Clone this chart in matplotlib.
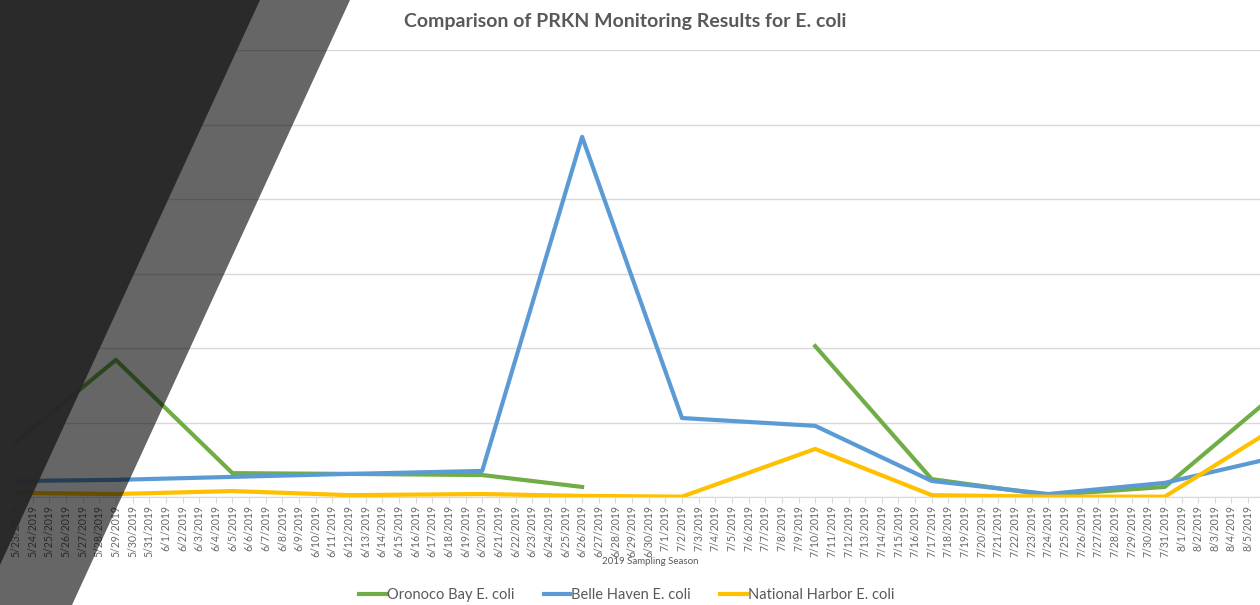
import matplotlib.pyplot as plt
import numpy as np
import pandas as pd
from matplotlib.patches import Polygon

# axis runs daily, sampling only on some days
axis_start = "2019-05-23"
axis_end = "2019-08-07"
last_label = "2019-08-05"
sample_dates = ["2019-05-23", "2019-05-29", "2019-06-05", "2019-06-12", "2019-06-20",
                "2019-06-26", "2019-07-02", "2019-07-10", "2019-07-17", "2019-07-24",
                "2019-07-31", "2019-08-07"]
oronoco = [148, 368, 64, 62, 59, 27, np.nan, 405, 48, 5, 27, 290]
belle_haven = [43, 46, 54, 62, 70, 967, 212, 191, 43, 8, 38, 110]
national_harbor = [11, 8, 16, 5, 8, 3, 1, 129, 5, 1, 1, 196]

W, H = 1260, 605
fig = plt.figure(figsize=(W / 100, H / 100), dpi=100)
plt.rcParams['font.family'] = ['Lato', 'DejaVu Sans']

# plot area in pixels: day 0 at x=16, 16.65 px per day
px_day = 16.65
x_left = 16 - 0.5 * px_day
x_right = 16 + 76.5 * px_day
ax = fig.add_axes([x_left / W, 1 - 497 / H, (x_right - x_left) / W, (497 - 50) / H])

days = pd.date_range(axis_start, axis_end, freq="D")
start = pd.Timestamp(axis_start)
xs = [(pd.Timestamp(d) - start).days for d in sample_dates]

ax.plot(xs, oronoco, color="#70AD47", lw=3.0, solid_joinstyle="round", zorder=3, label="Oronoco Bay E. coli")
ax.plot(xs, belle_haven, color="#5B9BD5", lw=3.0, solid_joinstyle="round", zorder=3, label="Belle Haven E. coli")
ax.plot(xs, national_harbor, color="#FFC000", lw=3.0, solid_joinstyle="round", zorder=3, label="National Harbor E. coli")

ax.set_xlim(-0.5, 76.5)
ax.set_ylim(0, 1200)
ax.set_yticks(np.arange(0, 1201, 200))
ax.yaxis.grid(True, color="#d9d9d9", lw=1)
ax.set_axisbelow(True)
ax.tick_params(axis="y", length=0, labelleft=False)

# labels past the picture's right edge are left blank
tick_labels = [f"{d.month}/{d.day}/{d.year}" if d <= pd.Timestamp(last_label) else ""
               for d in days]
ax.set_xticks(range(len(days)))
ax.set_xticklabels(tick_labels, rotation=90, fontsize=7.6, color="#666666")
ax.tick_params(axis="x", length=4, color="#d9d9d9", pad=2)
for s in ["top", "right", "left"]:
    ax.spines[s].set_visible(False)
ax.spines["bottom"].set_color("#d9d9d9")

fig.text(625 / W, 1 - 22 / H, "Comparison of PRKN Monitoring Results for E. coli",
         ha="center", va="center", fontsize=14, fontweight="bold", color="#595959")
fig.text(650 / W, 1 - 561 / H, "2019 Sampling Season", ha="center", va="center",
         fontsize=7, color="#595959")

handles, labels = ax.get_legend_handles_labels()
fig.legend(handles, labels, loc="center", bbox_to_anchor=(627 / W, 1 - 595 / H), ncol=3,
           frameon=False, fontsize=10.5, handlelength=1.8, handletextpad=0.1,
           columnspacing=2.0, labelcolor="#595959")

# dark diagonal bands over the left side
def to_fig(pts):
    return [(x / W, 1 - y / H) for x, y in pts]

band = Polygon(to_fig([(0, 0), (350, 0), (72, 605), (0, 605)]), closed=True,
               transform=fig.transFigure, facecolor="black", alpha=0.6, edgecolor="none")
dark = Polygon(to_fig([(0, 0), (260, 0), (0, 565)]), closed=True,
               transform=fig.transFigure, facecolor="#262626", alpha=0.93, edgecolor="none")
fig.patches.extend([band, dark])

fig.savefig("out.png", dpi=100)
